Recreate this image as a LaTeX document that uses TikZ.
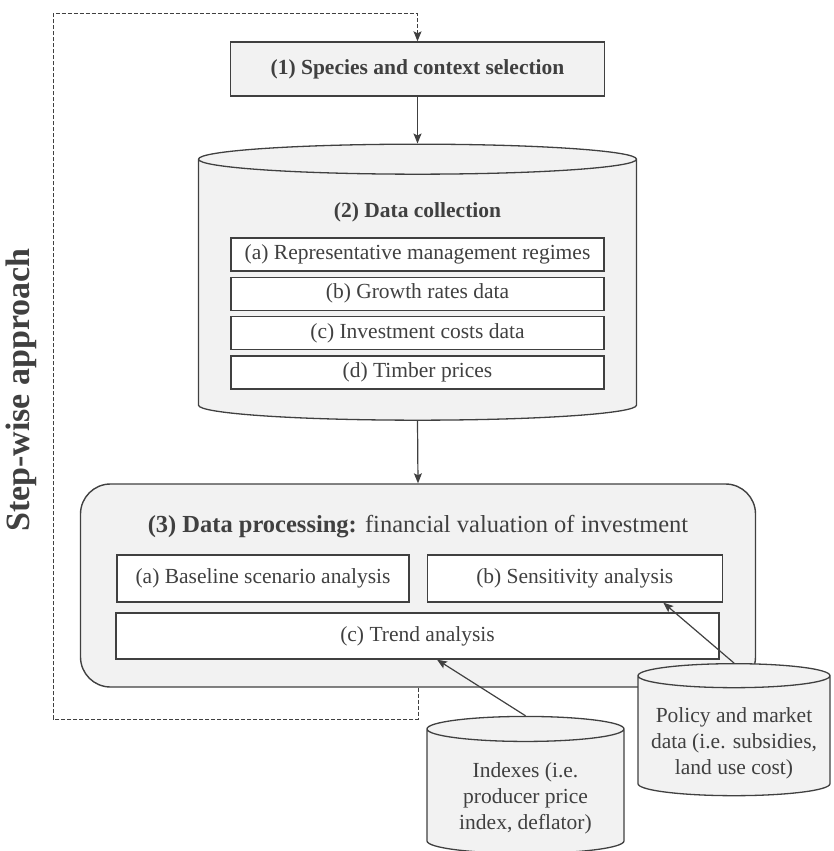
\documentclass[tikz,border=0pt]{standalone}
\usepackage{fontspec}
\setmainfont{Liberation Serif}
\usepackage{tikz}
\usetikzlibrary{shapes.geometric, arrows, arrows.meta, positioning}
\definecolor{darkline}{HTML}{404040}
\definecolor{lightfill}{HTML}{F2F2F2}
\newcommand{\diagfont}{\fontsize{21.5}{26}\selectfont}
\newcommand{\headfont}{\fontsize{24.5}{29}\selectfont}
\newcommand{\sidefont}{\fontsize{34}{38}\selectfont}
\tikzstyle{stage} = [rectangle, draw=darkline, line width=1.4pt, fill=lightfill, text=darkline, inner sep=0pt, font=\diagfont]
\tikzstyle{database} = [cylinder, shape border rotate=90, draw=darkline, line width=1.3pt, fill=lightfill, text=darkline, align=center, inner sep=0pt, font=\diagfont]
\tikzstyle{item} = [rectangle, draw=darkline, line width=1.3pt, fill=white, text=darkline, minimum width=373pt, minimum height=33pt, inner sep=0pt, font=\diagfont]
\tikzstyle{heading} = [text=darkline, inner sep=0pt, font=\diagfont, align=center]
\tikzstyle{arrow} = [line width=1.2pt, draw=darkline, -{Stealth[length=10pt, width=8pt, inset=2pt]}]
\tikzstyle{loop} = [line width=1pt, draw=darkline, dash pattern=on 4pt off 2pt, -{Stealth[length=10pt, width=8pt, inset=2pt]}]

\begin{document}
\begin{tikzpicture}[x=1pt, y=-1pt, node distance=5pt]
        \useasboundingbox (0,0) rectangle (833,851);

        \node (species) [stage, minimum width=374pt, minimum height=54pt] at (417.5,69) {\textbf{(1) Species and context selection}};

        \node (collection) [database, text width=438pt, minimum height=276pt, aspect=0.0685] at (417.5,290) {};
        \node (collectiontitle) [heading] at (417.5,212) {\textbf{(2) Data collection}};
        \node (regimes) [item] at (417.5,254.5) {(a) Representative management regimes};
        \node (growth) [item, below=of regimes] {(b) Growth rates data};
        \node (costs) [item, below=of growth] {(c) Investment costs data};
        \node (prices) [item, below=of costs] {(d) Timber prices};

        \node (processing) [stage, rounded corners=30pt, minimum width=675pt, minimum height=203pt] at (418,585.5) {};
        \node (processingtitle) [heading, font=\headfont] at (418,527) {\textbf{(3) Data processing:} financial valuation of investment};
        \node (baseline) [item, minimum width=292pt, minimum height=47pt] at (263,578.5) {(a) Baseline scenario analysis};
        \node (sensitivity) [item, minimum width=295pt, minimum height=47pt, right=17pt of baseline] {(b) Sensitivity analysis};
        \node (trend) [item, minimum width=603pt, minimum height=46pt] at (417.5,636) {(c) Trend analysis};

        \node (policy) [database, text width=192pt, minimum height=132pt, aspect=0.125] at (734,736) {};
        \node (policytext) [heading] at (734,743) {Policy and market\\data (i.e. subsidies,\\land use cost)};
        \node (indexes) [database, text width=197pt, minimum height=137pt, aspect=0.127] at (525.5,791.5) {};
        \node (indexestext) [heading] at (525.5,798.5) {Indexes (i.e.\\producer price\\index, deflator)};

        \node (stepwise) [heading, font=\sidefont, rotate=90] at (21,390) {\textbf{Step-wise approach}};

        \coordinate (loopcorner) at (53,719);
        \coordinate (looptop) at (53,14);

        \draw [arrow] (species) -- (collection);
        \draw [arrow] (collection.south) -- (processing.north);
        \draw [arrow] (indexes.north) -- ([xshift=19.5pt]trend.south);
        \draw [arrow] (policy.north) -- ([xshift=88.5pt]sensitivity.south);
        \draw [loop] (processing.south) -- (processing.south |- loopcorner) -- (loopcorner) -- (looptop) -| (species.north);

\end{tikzpicture}
\end{document}
